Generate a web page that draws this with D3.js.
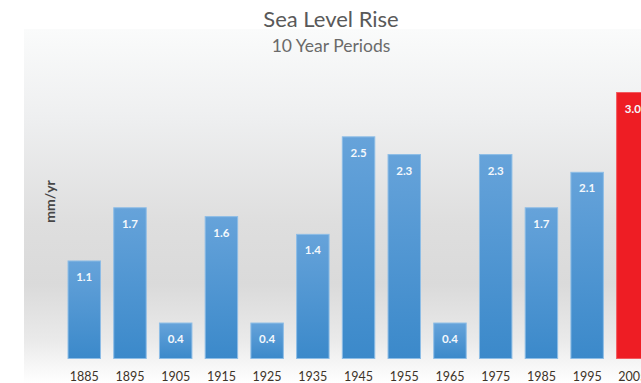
<!DOCTYPE html>
<html>
<head>
<meta charset="utf-8">
<script src="https://cdn.jsdelivr.net/npm/d3@7"></script>
<style>
  html, body { margin: 0; padding: 0; background: #ffffff; }
  svg { display: block; }
</style>
</head>
<body>
<script>
// Sea level rise per decade (mm/yr)
const periods = ["1885", "1895", "1905", "1915", "1925", "1935", "1945", "1955", "1965", "1975", "1985", "1995", "2005"];
const rates = [1.1, 1.7, 0.4, 1.6, 0.4, 1.4, 2.5, 2.3, 0.4, 2.3, 1.7, 2.1, 3.0];
const highlight = ["2005"];

const W = 641, H = 383;
const fontFamily = "Lato, 'Open Sans', 'DejaVu Sans', sans-serif";

const svg = d3.select("body").append("svg")
  .attr("width", W).attr("height", H);

const defs = svg.append("defs");

// Plot area background: pale at the top, grey through the middle, white at the floor
const bg = defs.append("linearGradient").attr("id", "bg").attr("x1", 0).attr("y1", 0).attr("x2", 0).attr("y2", 1);
[[0, "#fafbfb"], [0.25, "#eeeff0"], [0.55, "#dedede"], [0.72, "#dadada"], [0.88, "#eaeaea"], [1, "#ffffff"]]
  .forEach(([o, c]) => bg.append("stop").attr("offset", o).attr("stop-color", c));

const blue = defs.append("linearGradient").attr("id", "blue").attr("x1", 0).attr("y1", 0).attr("x2", 0).attr("y2", 1);
[[0, "#66a3da"], [1, "#3b89ca"]]
  .forEach(([o, c]) => blue.append("stop").attr("offset", o).attr("stop-color", c));

svg.append("rect")
  .attr("x", 24).attr("y", 29).attr("width", W - 24).attr("height", H - 29)
  .attr("fill", "url(#bg)");

// Scales
const x = d3.scaleBand()
  .domain(periods)
  .range([61.4, 655.7])
  .paddingInner(0.29)
  .paddingOuter(0.145);

const y = d3.scaleLinear()
  .domain([0, 3.0])
  .range([358.5, 92.5]);

// Bars
const bars = svg.append("g");
bars.selectAll("rect")
  .data(periods)
  .join("rect")
  .attr("x", d => x(d))
  .attr("y", (d, i) => y(rates[i]))
  .attr("width", x.bandwidth())
  .attr("height", (d, i) => y(0) - y(rates[i]))
  .attr("fill", d => highlight.includes(d) ? "#ee1d24" : "url(#blue)")
  .attr("stroke", d => highlight.includes(d) ? "#f25a5f" : "#8dbde6")
  .attr("stroke-width", 1);

// Value labels inside the bar tops
svg.append("g").selectAll("text")
  .data(periods)
  .join("text")
  .attr("x", d => x(d) + x.bandwidth() / 2)
  .attr("y", (d, i) => y(rates[i]) + 20)
  .attr("text-anchor", "middle")
  .attr("font-family", fontFamily)
  .attr("font-size", 11.5)
  .attr("font-weight", "bold")
  .attr("fill", "#f4f8fc")
  .text((d, i) => rates[i].toFixed(1));

// Category axis (labels only)
const xAxis = svg.append("g")
  .attr("transform", `translate(0, ${y(0)})`)
  .call(d3.axisBottom(x).tickSize(0).tickPadding(14));
xAxis.select(".domain").remove();
xAxis.selectAll("text")
  .attr("font-family", fontFamily)
  .attr("font-size", 12.5)
  .attr("fill", "#3d3328");

// Axis title
svg.append("text")
  .attr("transform", "translate(55, 201.5) rotate(-90)")
  .attr("text-anchor", "middle")
  .attr("font-family", fontFamily)
  .attr("font-size", 14)
  .attr("font-weight", "bold")
  .attr("fill", "#474747")
  .text("mm/yr");

// Titles
svg.append("text")
  .attr("x", 331).attr("y", 27)
  .attr("text-anchor", "middle")
  .attr("font-family", fontFamily)
  .attr("font-size", 22)
  .attr("fill", "#595959")
  .text("Sea Level Rise");

svg.append("text")
  .attr("x", 331).attr("y", 52)
  .attr("text-anchor", "middle")
  .attr("font-family", fontFamily)
  .attr("font-size", 17.5)
  .attr("fill", "#6a6a6a")
  .text("10 Year Periods");
</script>
</body>
</html>
